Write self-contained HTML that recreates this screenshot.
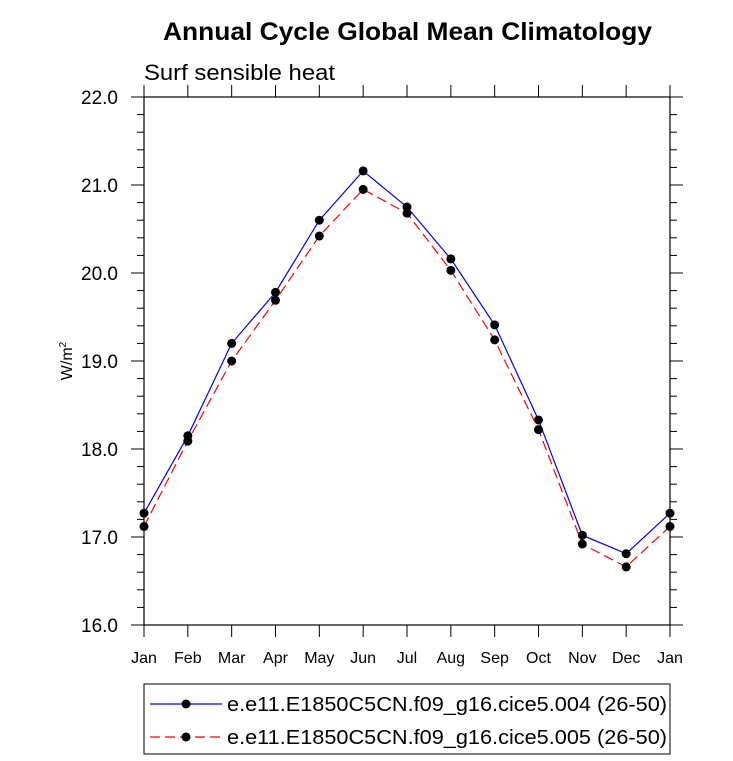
<!DOCTYPE html>
<html><head><meta charset="utf-8"><style>body{margin:0;background:#fff}svg{display:block}</style></head>
<body>
<svg id="chart" width="733" height="761" xmlns="http://www.w3.org/2000/svg" font-family="Liberation Sans, sans-serif">
<text x="163" y="40" font-size="25" font-weight="bold" textLength="489" lengthAdjust="spacingAndGlyphs">Annual Cycle Global Mean Climatology</text>
<text x="144" y="80" font-size="22" textLength="191" lengthAdjust="spacingAndGlyphs">Surf sensible heat</text>
<text transform="translate(72,361) rotate(-90)" text-anchor="middle" font-size="16">W/m<tspan dy="-6" font-size="10">2</tspan></text>
<g id="axes"></g>
<g id="series"></g>
<g>
<rect x="144" y="684" width="526" height="70" fill="none" stroke="#000" stroke-width="1"/>
<line x1="150" y1="704" x2="222" y2="704" stroke="#0000ff" stroke-width="1.2"/>
<circle cx="186" cy="704" r="4.5"/>
<text x="227" y="711" font-size="20" textLength="440" lengthAdjust="spacingAndGlyphs">e.e11.E1850C5CN.f09_g16.cice5.004 (26-50)</text>
<line x1="150" y1="737" x2="222" y2="737" stroke="#ff0000" stroke-width="1.2" stroke-dasharray="10,5"/>
<circle cx="186" cy="737" r="4.5"/>
<text x="227" y="744" font-size="20" textLength="440" lengthAdjust="spacingAndGlyphs">e.e11.E1850C5CN.f09_g16.cice5.005 (26-50)</text>
</g>
</svg>
<script>
const months=["Jan","Feb","Mar","Apr","May","Jun","Jul","Aug","Sep","Oct","Nov","Dec","Jan"];
const series004=[17.27,18.15,19.20,19.78,20.60,21.16,20.75,20.16,19.41,18.33,17.02,16.81,17.27];
const series005=[17.12,18.09,19.00,19.69,20.42,20.95,20.68,20.03,19.24,18.22,16.92,16.66,17.12];
const yTicks=[16,17,18,19,20,21,22];
const NS="http://www.w3.org/2000/svg";
const X0=144,X1=670,Y0=625,Y1=97,ymin=16,ymax=22;
const xs=i=>X0+(X1-X0)*i/(months.length-1);
const ys=v=>Y0-(v-ymin)/(ymax-ymin)*(Y0-Y1);
function mk(t,a,p){const e=document.createElementNS(NS,t);for(const k in a)e.setAttribute(k,a[k]);p.appendChild(e);return e;}
const ax=document.getElementById('axes');
const frame=mk('rect',{x:X0,y:Y1,width:X1-X0,height:Y0-Y1,fill:'none',stroke:'#000','stroke-width':1.2},ax);


yTicks.forEach(v=>{const y=ys(v);
mk('line',{x1:X0-13,y1:y,x2:X0,y2:y,stroke:'#000'},ax);
mk('line',{x1:X1,y1:y,x2:X1+13,y2:y,stroke:'#000'},ax);
const t=mk('text',{x:X0-26,y:y+7,'text-anchor':'end','font-size':19},ax);t.textContent=v.toFixed(1);


});
for(let v=ymin;v<=ymax+1e-9;v+=0.2){const y=ys(v);
mk('line',{x1:X0-7,y1:y,x2:X0,y2:y,stroke:'#000'},ax);
mk('line',{x1:X1,y1:y,x2:X1+7,y2:y,stroke:'#000'},ax);}
months.forEach((m,i)=>{const x=xs(i);
mk('line',{x1:x,y1:Y0,x2:x,y2:Y0+12,stroke:'#000'},ax);
mk('line',{x1:x,y1:Y1-12,x2:x,y2:Y1,stroke:'#000'},ax);
const t=mk('text',{x:x,y:Y0+38,'text-anchor':'middle','font-size':16},ax);t.textContent=m;


});
const sg=document.getElementById('series');
function draw(vals,color,dash,name){
const pl=mk('polyline',{points:vals.map((v,i)=>xs(i)+','+ys(v)).join(' '),fill:'none',stroke:color,'stroke-width':1.2,'stroke-dasharray':dash},sg);


vals.forEach((v,i)=>{const c=mk('circle',{cx:xs(i),cy:ys(v),r:4.5,fill:'#000'},sg);

});
}
draw(series004,'#0000ff','none','series-004');
draw(series005,'#ff0000','10,5','series-005');
</script>
</body></html>
